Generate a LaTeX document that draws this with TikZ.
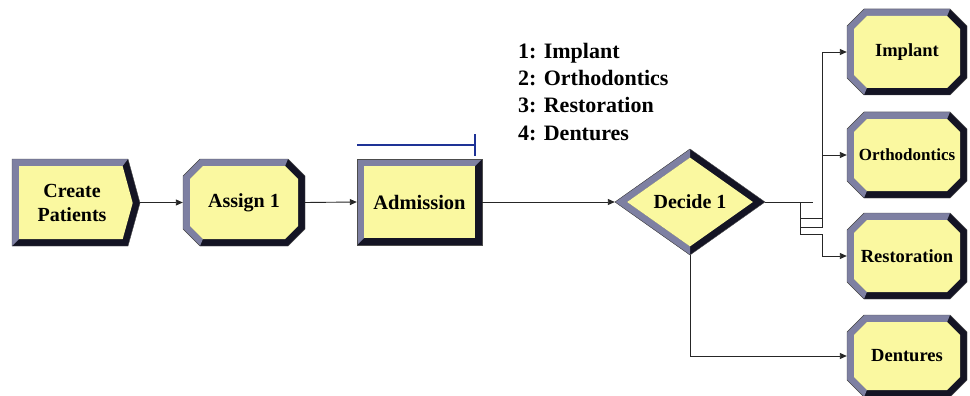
\documentclass[tikz,border=0pt]{standalone}
\usepackage{fontspec}
\setmainfont{Liberation Serif}[BoldFont={Liberation Serif Bold}]
\newfontfamily\tmsbold{Liberation Serif Bold}
\usetikzlibrary{arrows.meta}
\definecolor{boxfill}{RGB}{250,248,160}
\definecolor{bevlight}{RGB}{126,128,162}
\definecolor{bevdark}{RGB}{20,20,36}
\definecolor{bluebar}{RGB}{30,50,150}
\tikzset{
  lab/.style={inner sep=0pt, align=center},
  conn/.style={line width=0.9pt, draw=black!85},
  arr/.style={conn, -{Triangle[length=7pt,width=6pt]}},
  edgeline/.style={draw=black!70, line width=0.4pt},
  listtext/.style={anchor=base west, inner sep=0pt, font=\tmsbold\fontsize{22}{27}\selectfont},
}
\newcommand{\bevW}{7}
\newcommand{\cutC}{17}
% #1 name, #2 cx, #3 cy, #4 width, #5 height, #6 font, #7 text
\newcommand{\octnode}[7]{%
  \pgfmathsetmacro\oxA{#2-#4/2}\pgfmathsetmacro\oxB{#2+#4/2}%
  \pgfmathsetmacro\oyA{#3-#5/2}\pgfmathsetmacro\oyB{#3+#5/2}%
  \pgfmathsetmacro\oci{\cutC-0.586*\bevW}%
  \fill[bevdark] (\oxA+\cutC,\oyA) -- (\oxB-\cutC,\oyA) -- (\oxB,\oyA+\cutC) -- (\oxB,\oyB-\cutC) -- (\oxB-\cutC,\oyB) -- (\oxA+\cutC,\oyB) -- (\oxA,\oyB-\cutC) -- (\oxA,\oyA+\cutC) -- cycle;
  \fill[bevlight] (\oxB-\cutC,\oyA) -- (\oxA+\cutC,\oyA) -- (\oxA,\oyA+\cutC) -- (\oxA,\oyB-\cutC) -- (\oxA+\cutC,\oyB) -- (\oxA+\bevW+\oci,\oyB-\bevW) -- (\oxA+\bevW,\oyB-\bevW-\oci) -- (\oxA+\bevW,\oyA+\bevW+\oci) -- (\oxA+\bevW+\oci,\oyA+\bevW) -- (\oxB-\bevW-\oci,\oyA+\bevW) -- cycle;
  \fill[boxfill] (\oxA+\bevW+\oci,\oyA+\bevW) -- (\oxB-\bevW-\oci,\oyA+\bevW) -- (\oxB-\bevW,\oyA+\bevW+\oci) -- (\oxB-\bevW,\oyB-\bevW-\oci) -- (\oxB-\bevW-\oci,\oyB-\bevW) -- (\oxA+\bevW+\oci,\oyB-\bevW) -- (\oxA+\bevW,\oyB-\bevW-\oci) -- (\oxA+\bevW,\oyA+\bevW+\oci) -- cycle;
  \draw[edgeline] (\oxA+\cutC,\oyA) -- (\oxB-\cutC,\oyA) -- (\oxB,\oyA+\cutC) -- (\oxB,\oyB-\cutC) -- (\oxB-\cutC,\oyB) -- (\oxA+\cutC,\oyB) -- (\oxA,\oyB-\cutC) -- (\oxA,\oyA+\cutC) -- cycle;
  \node[lab, minimum width=#4pt, minimum height=#5pt, font=\tmsbold#6] (#1) at (#2,#3) {#7};
}
\begin{document}
\begin{tikzpicture}[x=1pt,y=-1pt]
\useasboundingbox (0,0) rectangle (970,396);
\fill[white] (0,0) rectangle (970,396);

% Create Patients
\fill[bevdark] (12,159) -- (128,159) -- (140,203) -- (128,246) -- (12,246) -- cycle;
\fill[bevlight] (12,246) -- (12,159) -- (128,159) -- (122.6,166) -- (19,166) -- (19,239) -- cycle;
\fill[boxfill] (19,166) -- (122.6,166) -- (132.7,203) -- (122.7,239) -- (19,239) -- cycle;
\draw[edgeline] (12,159) -- (128,159) -- (140,203) -- (128,246) -- (12,246) -- cycle;
\node[lab, minimum width=136pt, minimum height=87pt, font=\tmsbold\fontsize{20}{24}\selectfont] (create) at (72,202.5) {Create\\Patients};

% Assign 1
\octnode{assign}{244}{202.5}{122}{87}{\fontsize{20}{24}\selectfont}{Assign 1}

% Admission
\fill[bevdark] (357,159) rectangle (482,245);
\fill[bevlight] (357,245) -- (357,159) -- (482,159) -- (475,166) -- (364,166) -- (364,238) -- cycle;
\fill[boxfill] (364,166) rectangle (475,238);
\draw[edgeline] (357,159) rectangle (482,245);
\node[lab, minimum width=125pt, minimum height=86pt, font=\tmsbold\fontsize{20.5}{24}\selectfont] (adm) at (419.5,202) {Admission};
\draw[bluebar, line width=1.1pt] (357,145) -- (475,145) (475,134) -- (475,156);

% Decide 1
\fill[bevdark] (615,202) -- (690,149) -- (765,202) -- (690,255) -- cycle;
\fill[bevlight] (690,149) -- (615,202) -- (690,255) -- (690,246.4) -- (627.1,202) -- (690,157.6) -- cycle;
\fill[boxfill] (627.1,202) -- (690,157.6) -- (752.9,202) -- (690,246.4) -- cycle;
\draw[edgeline] (615,202) -- (690,149) -- (765,202) -- (690,255) -- cycle;
\node[lab, minimum width=150pt, minimum height=106pt, font=\tmsbold\fontsize{20}{24}\selectfont] (decide) at (690,202) {Decide 1};

% list
\node[listtext] (l1) at (518,59) {1: Implant};
\node[listtext] (l2) at (518,86) {2: Orthodontics};
\node[listtext] (l3) at (518,113) {3: Restoration};
\node[listtext] (l4) at (518,140) {4: Dentures};

% right boxes
\octnode{implant}{907}{52}{120}{86}{\fontsize{18.5}{22}\selectfont}{Implant}
\octnode{ortho}{907}{155}{120}{86}{\fontsize{17}{20}\selectfont}{Orthodontics}
\octnode{resto}{907}{256}{120}{86}{\fontsize{18.5}{22}\selectfont}{Restoration}
\octnode{dent}{907}{356}{120}{82}{\fontsize{18.5}{22}\selectfont}{Dentures}

% connectors
\draw[arr] (create.east) -- (assign.west);
\draw[arr] (assign.east) -- (adm.west);
\draw[arr] (adm.east) -- (decide.west);
\draw[conn] (decide.east) -- ++(48,0);
\draw[arr] (decide.east) -- ++(35,0) |- ++(22,16) |- (implant.west);
\draw[arr] (decide.east) -- ++(35,0) |- ++(22,25) |- (ortho.west);
\draw[arr] (decide.east) -- ++(35,0) |- ++(22,32) |- (resto.west);
\draw[arr] (decide.south) |- (dent.west);
\end{tikzpicture}
\end{document}
